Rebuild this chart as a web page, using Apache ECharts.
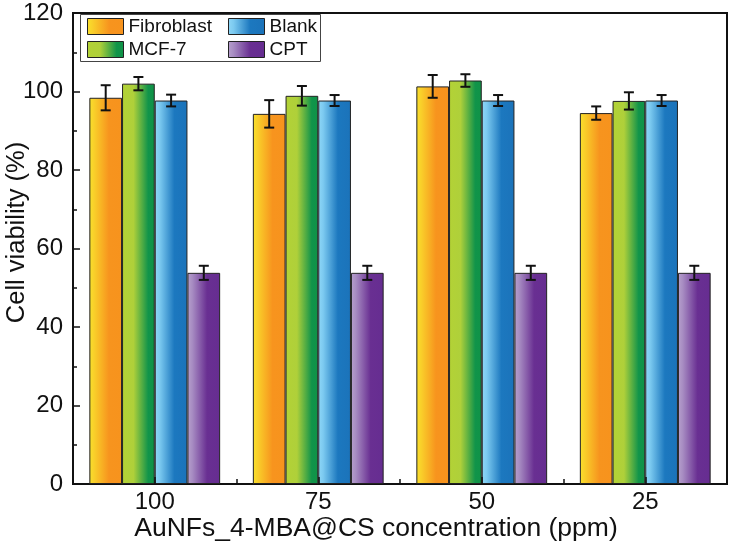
<!DOCTYPE html>
<html>
<head>
<meta charset="utf-8">
<script src="https://cdn.jsdelivr.net/npm/echarts@6/dist/echarts.min.js"></script>
<style>html,body{margin:0;padding:0;background:#fff}#c{width:731px;height:555px}</style>
</head>
<body>
<div id="c"></div>
<script>
const categories = ['100', '75', '50', '25'];
const seriesNames = ['Fibroblast', 'MCF-7', 'Blank', 'CPT'];
const fibroblast = [98.4, 94.3, 101.3, 94.5];
const fibroblastErr = [3.2, 3.5, 2.9, 1.7];
const mcf7 = [102.0, 98.9, 102.8, 97.6];
const mcf7Err = [1.7, 2.5, 1.6, 2.2];
const blank = [97.7, 97.7, 97.7, 97.7];
const blankErr = [1.5, 1.4, 1.4, 1.4];
const cpt = [53.8, 53.8, 53.8, 53.8];
const cptErr = [1.8, 1.8, 1.8, 1.8];
const yTicks = [0, 20, 40, 60, 80, 100, 120];

const values = [fibroblast, mcf7, blank, cpt];
const errors = [fibroblastErr, mcf7Err, blankErr, cptErr];

function grad(stops) {
  return new echarts.graphic.LinearGradient(0, 0, 1, 0, stops.map(s => ({offset: s[0], color: s[1]})));
}
const fills = [
  grad([[0, '#F9E12B'], [0.15, '#F9CF2A'], [0.6, '#F7941E'], [1, '#F7931D']]),
  grad([[0, '#B3D236'], [0.35, '#AFD03A'], [0.8, '#11944A'], [1, '#0F9347']]),
  grad([[0, '#8FD7F7'], [0.15, '#7CCAF0'], [0.6, '#1C78BF'], [1, '#1B73BA']]),
  grad([[0, '#B7A0CD'], [0.15, '#A78CC2'], [0.6, '#692F92'], [1, '#662D91']])
];

const barSeries = seriesNames.map((n, i) => ({
  name: n,
  type: 'bar',
  data: values[i],
  barGap: '0%',
  barCategoryGap: '20%',
  itemStyle: {color: fills[i], borderColor: '#222', borderWidth: 1},
  z: 2
}));

const errSeries = seriesNames.map((n, i) => ({
  type: 'custom',
  name: n + '_err',
  data: categories.map((c, k) => [k, values[i][k], errors[i][k]]),
  z: 5,
  silent: true,
  renderItem: function (params, api) {
    const k = api.value(0), v = api.value(1), e = api.value(2);
    const catW = api.size([1, 0])[0];
    const bw = catW * 0.8 / 4;
    const off = (i - 1.5) * bw;
    const hi = api.coord([k, v + e]);
    const lo = api.coord([k, v - e]);
    const x = hi[0] + off;
    const cap = 5;
    const st = {stroke: '#111', lineWidth: 2};
    return {
      type: 'group',
      children: [
        {type: 'line', shape: {x1: x, y1: hi[1], x2: x, y2: lo[1]}, style: st},
        {type: 'line', shape: {x1: x - cap, y1: hi[1], x2: x + cap, y2: hi[1]}, style: st},
        {type: 'line', shape: {x1: x - cap, y1: lo[1], x2: x + cap, y2: lo[1]}, style: st}
      ]
    };
  }
}));

const chart = echarts.init(document.getElementById('c'), null, {renderer: 'canvas'});
const font = 'Liberation Sans, Arial, sans-serif';
const legendCommon = {
  orient: 'vertical', top: 17, itemGap: 4, icon: 'rect',
  itemWidth: 36, itemHeight: 16,
  textStyle: {fontSize: 19, color: '#111', fontFamily: font},
  itemStyle: {borderColor: '#222', borderWidth: 1},
  selectedMode: false, padding: 0
};
chart.setOption({
  animation: false,
  textStyle: {fontFamily: font},
  grid: {left: 73, right: 4, top: 13, bottom: 71, outerBoundsMode: 'none', containLabel: false,
    show: true, borderColor: '#111', borderWidth: 2, backgroundColor: 'transparent'},
  legend: [
    Object.assign({data: ['Fibroblast', 'MCF-7'], left: 87}, legendCommon),
    Object.assign({data: ['Blank', 'CPT'], left: 228}, legendCommon)
  ],
  graphic: [{
    type: 'rect', left: 80, top: 14, z: 0,
    shape: {width: 240, height: 47},
    style: {fill: '#fff', stroke: '#444', lineWidth: 1}
  }],
  xAxis: [
    {
      type: 'category', data: categories, position: 'bottom',
      axisLine: {lineStyle: {color: '#111', width: 2}},
      axisTick: {show: true, inside: true, length: 5, lineStyle: {color: '#111', width: 1.5}},
      axisLabel: {fontSize: 24, color: '#111', margin: 6, fontFamily: font},
      name: 'AuNFs_4-MBA@CS concentration (ppm)',
      nameLocation: 'middle', nameGap: 31, nameMoveOverlap: false,
      nameTextStyle: {fontSize: 26.5, color: '#111', fontFamily: font, padding: [0, 48, 0, 0]}
    },
    {
      type: 'category', data: categories, position: 'bottom', z: 10,
      axisLine: {show: false},
      axisTick: {show: true, inside: true, alignWithLabel: true, length: 7, lineStyle: {color: '#111', width: 1.5}},
      axisLabel: {show: false}
    }
  ],
  yAxis: [
    {
      type: 'value', min: 0, max: 120, interval: 20, position: 'left',
      axisLine: {show: true, lineStyle: {color: '#111', width: 2}},
      axisTick: {show: true, inside: true, length: 7, lineStyle: {color: '#111', width: 1.5}},
      splitLine: {show: false},
      axisLabel: {fontSize: 24, color: '#111', margin: 10, fontFamily: font,
        formatter: v => yTicks.includes(v) ? String(v) : ''},
      name: 'Cell viability (%)',
      nameLocation: 'middle', nameGap: 43, nameRotate: 90, nameMoveOverlap: false,
      nameTextStyle: {fontSize: 25.5, color: '#111', fontFamily: font, padding: [0, 0, 0, 32]}
    },
    {
      type: 'value', min: 0, max: 120, interval: 10, position: 'left', offset: 0,
      axisLine: {show: false},
      axisTick: {show: true, inside: true, length: 4, lineStyle: {color: '#111', width: 1.5}},
      splitLine: {show: false},
      axisLabel: {show: false}
    }
  ],
  series: barSeries.concat(errSeries)
});
</script>
</body>
</html>
